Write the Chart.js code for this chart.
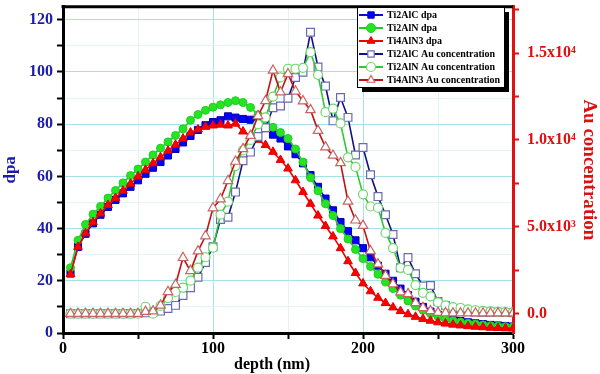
<!DOCTYPE html>
<html>
<head>
<meta charset="utf-8">
<script src="https://cdn.jsdelivr.net/npm/chart.js@4"></script>
<style>
  body { margin: 0; background: #fff; }
  #wrap { width: 600px; height: 374px; }
</style>
</head>
<body>
<div id="wrap"><canvas id="chart" width="600" height="374"></canvas></div>
<script>
// depth (nm)
const depth = [5, 10, 15, 20, 25, 30, 35, 40, 45, 50, 55, 60, 65, 70, 75, 80, 85, 90, 95, 100,
  105, 110, 115, 120, 125, 130, 135, 140, 145, 150, 155, 160, 165, 170, 175, 180, 185, 190, 195, 200,
  205, 210, 215, 220, 225, 230, 235, 240, 245, 250, 255, 260, 265, 270, 275, 280, 285, 290, 295, 300];

// dpa (left axis)
const ti2alcDpa = [22.8, 33, 38, 42, 45.3, 48.3, 51, 53.5, 56, 58.5, 61, 63.3, 65.5, 68, 70.5, 73, 75.5, 77.8, 79.6, 80.8,
  81.5, 83, 82.5, 82, 81.7, 80.5, 78.5, 76, 74.5, 71.5, 68.5, 65, 60.5, 56, 51.5, 47, 42.5, 39, 35.5, 32.5,
  29, 25.8, 22.7, 20, 17, 14.5, 12, 10, 8.2, 7, 6, 5.2, 4.6, 4.1, 3.7, 3.4, 3.1, 2.9, 2.7, 2.5];
const ti2alnDpa = [25, 35.5, 41.6, 45.5, 48.5, 51.7, 54.6, 57.5, 60.3, 62.8, 65.5, 68.2, 70.8, 73.2, 75.7, 78.2, 81.5, 83.7, 85.3, 86.5,
  87.4, 88.3, 89, 88.3, 86.4, 83.6, 81, 78.8, 76.8, 74.5, 70.5, 65.5, 59.5, 54.5, 49.5, 45, 40, 36, 32, 28.5,
  25.5, 22.5, 19.5, 17, 14.5, 12.3, 10.3, 8.7, 7.4, 6.3, 5.4, 4.7, 4.2, 3.7, 3.4, 3.1, 2.8, 2.6, 2.4, 2.3];
const ti4aln3Dpa = [22.5, 33, 38.2, 42.5, 45.8, 49, 51.7, 54.5, 57.2, 60, 62.5, 65, 67.3, 69.8, 72.1, 74.5, 76.8, 78, 79, 79.5,
  79.8, 79.5, 80.2, 77.2, 75.5, 74, 72, 69.4, 66.3, 63, 58.5, 54, 49.5, 45, 41, 37, 32.5, 27.5, 23, 19,
  16, 13.5, 11.5, 9.8, 8.4, 7.2, 6.2, 5.4, 4.7, 4.1, 3.6, 3.2, 2.9, 2.6, 2.4, 2.2, 2, 1.9, 1.8, 1.7];

// Au concentration (right axis)
const ti2alcAu = [0, 0, 0, 0, 0, 0, 0, 0, 0, 20, 50, 100, 150, 300, 480, 1050, 1500, 2100, 2950, 3850,
  5420, 5550, 7000, 8800, 9300, 10200, 10700, 11850, 11950, 12400, 13600, 13900, 16200, 14200, 13100, 11100, 12440, 11300, 9130, 9570,
  8000, 6740, 5700, 4560, 2650, 3230, 2300, 1600, 1620, 700, 480, 220, 150, 120, 100, 90, 80, 80, 70, 60];
const ti2alnAu = [0, 0, 0, 0, 0, 0, 0, 0, 0, 0, 400, 0, 450, 900, 1250, 1500, 1900, 2650, 3250, 3800,
  5700, 6450, 8500, 9400, 10000, 10900, 11300, 12500, 13600, 14100, 14100, 14150, 15050, 13750, 11600, 11800, 10950, 9000, 8450, 6870,
  6170, 6100, 4650, 3780, 2640, 2520, 1650, 1200, 1000, 650, 480, 380, 330, 250, 200, 160, 130, 110, 100, 90];
const ti4aln3Au = [0, 0, 0, 0, 0, 0, 0, 0, 0, 0, 120, 150, 480, 1260, 1670, 3220, 2470, 3600, 4470, 6080,
  6600, 7650, 8760, 9490, 10250, 11380, 12250, 14000, 12750, 13800, 12800, 12240, 11730, 10540, 9590, 9110, 8680, 6460, 5380, 5070,
  3610, 2850, 2190, 1710, 1240, 1140, 620, 340, 160, 60, 40, 30, 30, 30, 30, 30, 30, 30, 30, 30];

// ticks (major ones get a label, the rest are minor marks)
const depthTickMarks = [0, 50, 100, 150, 200, 250, 300];
const depthTicks = [0, 100, 200, 300];
const dpaTickMarks = [0, 10, 20, 30, 40, 50, 60, 70, 80, 90, 100, 110, 120];
const dpaTicks = [0, 20, 40, 60, 80, 100, 120];
const auTickMarks = [0, 2500, 5000, 7500, 10000, 12500, 15000, 17500];
const auTickValues = [0, 5000, 10000, 15000];
const auTickLabels = ['0.0', '5.0x10³', '1.0x10⁴', '1.5x10⁴'];

const serif = '"Liberation Serif", "Times New Roman", serif';
const blueText = '#1c1caa';
const redText = '#dd1111';

function pts(ys) {
  return depth.map((d, i) => ({ x: d, y: ys[i] }));
}

function noPad(s) {
  s.paddingTop = 0;
  s.paddingBottom = 0;
  s.paddingLeft = 0;
  s.paddingRight = 0;
}

function setTicks(values) {
  return s => { s.ticks = values.map(v => ({ value: v })); };
}

// legend box drawn inside the plot
const boxLegend = {
  id: 'boxLegend',
  afterDraw(chart) {
    const ctx = chart.ctx;
    const x0 = 357, y0 = 7, w = 147, h = 80;
    ctx.save();
    ctx.fillStyle = '#000';
    ctx.fillRect(x0 + 5, y0 + 5, w, h);
    ctx.fillStyle = '#fff';
    ctx.fillRect(x0, y0, w, h);
    ctx.strokeStyle = '#000';
    ctx.lineWidth = 1;
    ctx.strokeRect(x0 + 0.5, y0 + 0.5, w, h);
    chart.data.datasets.forEach((ds, i) => {
      const y = y0 + 8 + i * 13;
      ctx.strokeStyle = ds.borderColor;
      ctx.lineWidth = 2;
      ctx.beginPath();
      ctx.moveTo(x0 + 2, y);
      ctx.lineTo(x0 + 26, y);
      ctx.stroke();
      ctx.fillStyle = ds.pointBackgroundColor;
      ctx.strokeStyle = ds.pointBorderColor;
      ctx.lineWidth = ds.pointBorderWidth;
      Chart.helpers.drawPoint(ctx, { pointStyle: ds.pointStyle, rotation: 0, radius: 4.5, borderWidth: ds.pointBorderWidth }, x0 + 14, y);
      ctx.fillStyle = '#000';
      ctx.font = 'bold 10px ' + serif;
      ctx.textBaseline = 'middle';
      ctx.textAlign = 'left';
      ctx.fillText(ds.label, x0 + 30, y + 0.5);
    });
    ctx.restore();
  }
};

// top frame line
const topFrame = {
  id: 'topFrame',
  afterDatasetsDraw(chart) {
    const { ctx, chartArea } = chart;
    ctx.save();
    ctx.strokeStyle = '#000';
    ctx.lineWidth = 3;
    ctx.beginPath();
    ctx.moveTo(chartArea.left - 1.5, chartArea.top);
    ctx.lineTo(chartArea.right, chartArea.top);
    ctx.stroke();
    ctx.restore();
  }
};

const ctx = document.getElementById('chart').getContext('2d');

new Chart(ctx, {
  type: 'line',
  data: {
    datasets: [
      { label: 'Ti2AlC dpa', data: pts(ti2alcDpa), yAxisID: 'y', order: 6,
        borderColor: '#0a0ad0', pointBackgroundColor: '#0000ff', pointBorderColor: '#0000b0',
        pointStyle: 'rect', pointRadius: 5, pointBorderWidth: 1, borderWidth: 1.6 },
      { label: 'Ti2AlN dpa', data: pts(ti2alnDpa), yAxisID: 'y', order: 5,
        borderColor: '#22cc22', pointBackgroundColor: '#22e622', pointBorderColor: '#22cc22',
        pointStyle: 'circle', pointRadius: 4, pointBorderWidth: 1, borderWidth: 1.6 },
      { label: 'Ti4AlN3 dpa', data: pts(ti4aln3Dpa), yAxisID: 'y', order: 4,
        borderColor: '#ee0000', pointBackgroundColor: '#ff0000', pointBorderColor: '#e00000',
        pointStyle: 'triangle', pointRadius: 5, pointBorderWidth: 1, borderWidth: 1.6 },
      { label: 'Ti2AlC Au concentration', data: pts(ti2alcAu), yAxisID: 'y1', order: 3,
        borderColor: '#101088', pointBackgroundColor: '#ffffff', pointBorderColor: '#6a6ab4',
        pointStyle: 'rect', pointRadius: 5.5, pointBorderWidth: 1.2, borderWidth: 1.6 },
      { label: 'Ti2AlN Au concentration', data: pts(ti2alnAu), yAxisID: 'y1', order: 2,
        borderColor: '#33c833', pointBackgroundColor: '#ffffff', pointBorderColor: '#6cd86c',
        pointStyle: 'circle', pointRadius: 4.5, pointBorderWidth: 1.2, borderWidth: 1.6 },
      { label: 'Ti4AlN3 Au concentration', data: pts(ti4aln3Au), yAxisID: 'y1', order: 1,
        borderColor: '#c41010', pointBackgroundColor: '#ffffff', pointBorderColor: '#c86464',
        pointStyle: 'triangle', pointRadius: 5.5, pointBorderWidth: 1.2, borderWidth: 1.6 }
    ]
  },
  options: {
    responsive: false,
    animation: false,
    devicePixelRatio: 1,
    layout: { padding: { top: 3, left: 0, right: 0, bottom: 0 } },
    elements: { line: { tension: 0 } },
    plugins: {
      legend: { display: false },
      tooltip: { enabled: false }
    },
    scales: {
      x: {
        type: 'linear',
        min: 0,
        max: 300,
        afterBuildTicks: setTicks(depthTickMarks),
        afterFit: s => { s.height = 41; noPad(s); },
        border: { color: '#000', width: 3 },
        grid: {
          color: c => (c.tick && c.tick.value % 100 === 0) ? '#a6e2ea' : '#e3f3f6',
          lineWidth: 1,
          tickColor: '#000',
          tickLength: 6,
          tickWidth: 2
        },
        ticks: {
          autoSkip: false,
          maxRotation: 0,
          padding: 0,
          color: '#000',
          font: { family: serif, weight: 'bold', size: 16 },
          callback: v => depthTicks.includes(v) ? String(v) : ''
        },
        title: {
          display: true,
          text: 'depth (nm)        ',
          color: '#000',
          padding: { top: 0, bottom: 0 },
          font: { family: serif, weight: 'bold', size: 16, lineHeight: 1.2 }
        }
      },
      y: {
        position: 'left',
        min: 0,
        max: 125,
        afterBuildTicks: setTicks(dpaTickMarks),
        afterFit: s => { s.width = 63; noPad(s); },
        border: { color: '#000', width: 3 },
        grid: {
          color: c => (c.tick && c.tick.value % 20 === 0) ? '#a6e2ea' : '#e3f3f6',
          lineWidth: 1,
          tickColor: '#000',
          tickLength: 6,
          tickWidth: 2
        },
        ticks: {
          autoSkip: false,
          padding: 4,
          color: blueText,
          font: { family: serif, weight: 'bold', size: 16 },
          callback: v => dpaTicks.includes(v) ? String(v) : ''
        },
        title: {
          display: true,
          text: 'dpa',
          color: blueText,
          padding: { top: 0, bottom: 0 },
          font: { family: serif, weight: 'bold', size: 17, lineHeight: 1.2 }
        }
      },
      y1: {
        position: 'right',
        min: -1110,
        max: 17670,
        afterBuildTicks: setTicks(auTickMarks),
        afterFit: s => { s.width = 87; noPad(s); },
        border: { color: '#e01010', width: 3 },
        grid: {
          drawOnChartArea: false,
          tickColor: '#e01010',
          tickLength: 6,
          tickWidth: 2
        },
        ticks: {
          autoSkip: false,
          padding: 8,
          color: redText,
          font: { family: serif, weight: 'bold', size: 16 },
          callback: v => {
            const k = auTickValues.indexOf(v);
            return k >= 0 ? auTickLabels[k] : '';
          }
        },
        title: {
          display: true,
          text: 'Au concentration',
          color: redText,
          padding: { top: 0, bottom: 0 },
          font: { family: serif, weight: 'bold', size: 19, lineHeight: 1.2 }
        }
      }
    }
  },
  plugins: [topFrame, boxLegend]
});
</script>
</body>
</html>
